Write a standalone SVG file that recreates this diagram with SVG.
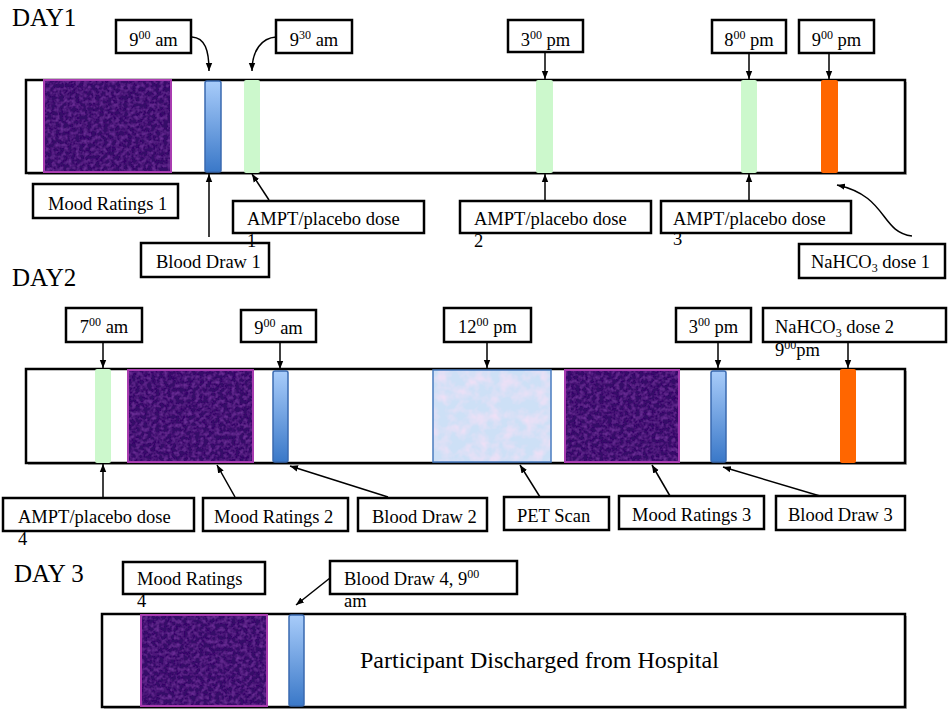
<svg xmlns="http://www.w3.org/2000/svg" width="948" height="710" viewBox="0 0 948 710" font-family="'Liberation Serif', 'Times New Roman', serif">
<style>
text{font-family:"Liberation Serif","Times New Roman",serif;fill:#000}
.lbl{font-size:18.5px}
.day{font-size:25px}
.big{font-size:24px}
.box{fill:#fff;stroke:#000;stroke-width:2.5}
.bar{fill:#fff;stroke:#000;stroke-width:2.5}
.shadow{fill:#bbb}
.con{fill:none;stroke:#000;stroke-width:1.5}
.green{fill:#ccf8cc}
.orange{fill:#ff6600}
.blue{fill:url(#bg);stroke:#3a6ab0;stroke-width:1.5}
.mood{fill:#360a68;filter:url(#tex)}
.moodb{fill:none;stroke:#a83cb0;stroke-width:2}
.pet{fill:#cde0f6;filter:url(#tex2)}
.petb{fill:none;stroke:#4a7cc0;stroke-width:1.5}
</style>
<defs>
<linearGradient id="bg" x1="0" y1="0" x2="0" y2="1">
<stop offset="0" stop-color="#a8ccfa"/>
<stop offset="1" stop-color="#3a78c8"/>
</linearGradient>
<filter id="tex" x="0" y="0" width="100%" height="100%">
<feTurbulence type="fractalNoise" baseFrequency="0.25" numOctaves="2" seed="2"/>
<feColorMatrix type="matrix" values="0 0 0 0 0.38  0 0 0 0 0.08  0 0 0 0 0.66  0.7 0 0 0 -0.27"/>
<feComposite in2="SourceGraphic" operator="in" result="t"/>
<feMerge><feMergeNode in="SourceGraphic"/><feMergeNode in="t"/></feMerge>
</filter>
<filter id="tex2" x="0" y="0" width="100%" height="100%">
<feTurbulence type="fractalNoise" baseFrequency="0.08" numOctaves="3" seed="5"/>
<feColorMatrix type="matrix" values="0 0 0 0 0.93  0 0 0 0 0.75  0 0 0 0 0.92  1.6 0 0 0 -0.6"/>
<feComposite in2="SourceGraphic" operator="in" result="t"/>
<feMerge><feMergeNode in="SourceGraphic"/><feMergeNode in="t"/></feMerge>
</filter>
<marker id="ah" viewBox="0 0 10 10" refX="10" refY="5" markerWidth="8" markerHeight="8" markerUnits="userSpaceOnUse" orient="auto">
<path d="M0,1 L10,5 L0,9 z" fill="#000"/>
</marker>
</defs>
<rect width="948" height="710" fill="#fff"/>

<!-- DAY 1 -->
<text class="day" x="12" y="26">DAY1</text>
<g id="day1-bar">
<rect class="shadow" x="28" y="82" width="879" height="93"/>
<rect class="bar" x="26" y="80" width="879" height="93"/>
</g>
<g id="mood1-block"><rect class="mood" x="44" y="80" width="127" height="92"/><rect class="moodb" x="44" y="80" width="127" height="92"/></g>
<g id="blood1-strip"><rect class="blue" x="205" y="81" width="16" height="91" rx="2"/></g>
<g id="ampt1-strip"><rect class="green" x="244" y="80" width="16" height="93" rx="2"/></g>
<g id="ampt2-strip"><rect class="green" x="536" y="80" width="17" height="93" rx="2"/></g>
<g id="ampt3-strip"><rect class="green" x="741" y="80" width="16" height="93" rx="2"/></g>
<g id="nahco1-strip"><rect class="orange" x="821" y="80" width="17" height="93" rx="2"/></g>

<g id="t-900am-d1"><rect class="box" x="116" y="20" width="75" height="33"/><text class="lbl" x="153.5" y="46" text-anchor="middle">9<tspan font-size="12" dy="-7">00</tspan><tspan dy="7"> am</tspan></text></g>
<g id="t-930am-d1"><rect class="box" x="276" y="20" width="76" height="33"/><text class="lbl" x="314" y="46" text-anchor="middle">9<tspan font-size="12" dy="-7">30</tspan><tspan dy="7"> am</tspan></text></g>
<g id="t-300pm-d1"><rect class="box" x="508" y="20" width="75" height="32"/><text class="lbl" x="545.5" y="46" text-anchor="middle">3<tspan font-size="12" dy="-7">00</tspan><tspan dy="7"> pm</tspan></text></g>
<g id="t-800pm-d1"><rect class="box" x="712" y="20" width="74" height="33"/><text class="lbl" x="749" y="46" text-anchor="middle">8<tspan font-size="12" dy="-7">00</tspan><tspan dy="7"> pm</tspan></text></g>
<g id="t-900pm-d1"><rect class="box" x="799" y="20" width="75" height="33"/><text class="lbl" x="836.5" y="46" text-anchor="middle">9<tspan font-size="12" dy="-7">00</tspan><tspan dy="7"> pm</tspan></text></g>

<g id="mood1-label"><rect class="box" x="33" y="184" width="145" height="34"/><text class="lbl" x="48" y="210">Mood Ratings 1</text></g>
<g id="blood1-label"><rect class="box" x="141" y="243" width="128" height="34"/><text class="lbl" x="156" y="268">Blood Draw 1</text></g>
<g id="ampt1-label"><rect class="box" x="233" y="201" width="191" height="32"/><text class="lbl" x="247" y="225">AMPT/placebo dose</text><text class="lbl" x="247" y="247">1</text></g>
<g id="ampt2-label"><rect class="box" x="460" y="201" width="191" height="32"/><text class="lbl" x="474" y="225">AMPT/placebo dose</text><text class="lbl" x="474" y="247">2</text></g>
<g id="ampt3-label"><rect class="box" x="661" y="201" width="190" height="32"/><text class="lbl" x="673" y="225">AMPT/placebo dose</text><text class="lbl" x="673" y="245">3</text></g>
<g id="nahco1-label"><rect class="box" x="799" y="244" width="146" height="34"/><text class="lbl" x="811" y="268">NaHCO<tspan font-size="12" dy="4">3</tspan><tspan dy="-4"> dose 1</tspan></text></g>

<!-- DAY 2 -->
<text class="day" x="12" y="286">DAY2</text>
<g id="day2-bar">
<rect class="shadow" x="28" y="371" width="879" height="94"/>
<rect class="bar" x="26" y="369" width="879" height="94"/>
</g>
<g id="ampt4-strip"><rect class="green" x="95" y="369" width="16" height="94" rx="2"/></g>
<g id="mood2-block"><rect class="mood" x="128" y="370" width="125" height="92"/><rect class="moodb" x="128" y="370" width="125" height="92"/></g>
<g id="blood2-strip"><rect class="blue" x="273" y="371" width="15" height="91" rx="2"/></g>
<g id="pet-block"><rect class="pet" x="433" y="370" width="118" height="92"/><rect class="petb" x="433" y="370" width="118" height="92"/></g>
<g id="mood3-block"><rect class="mood" x="565" y="370" width="114" height="92"/><rect class="moodb" x="565" y="370" width="114" height="92"/></g>
<g id="blood3-strip"><rect class="blue" x="711" y="371" width="15" height="91" rx="2"/></g>
<g id="nahco2-strip"><rect class="orange" x="840" y="369" width="16" height="94" rx="2"/></g>

<g id="t-700am-d2"><rect class="box" x="66" y="308" width="76" height="34"/><text class="lbl" x="104" y="333" text-anchor="middle">7<tspan font-size="12" dy="-7">00</tspan><tspan dy="7"> am</tspan></text></g>
<g id="t-900am-d2"><rect class="box" x="241" y="310" width="75" height="32"/><text class="lbl" x="278.5" y="334" text-anchor="middle">9<tspan font-size="12" dy="-7">00</tspan><tspan dy="7"> am</tspan></text></g>
<g id="t-1200pm-d2"><rect class="box" x="444" y="308" width="87" height="34"/><text class="lbl" x="487.5" y="333" text-anchor="middle">12<tspan font-size="12" dy="-7">00</tspan><tspan dy="7"> pm</tspan></text></g>
<g id="t-300pm-d2"><rect class="box" x="676" y="308" width="75" height="34"/><text class="lbl" x="713.5" y="333" text-anchor="middle">3<tspan font-size="12" dy="-7">00</tspan><tspan dy="7"> pm</tspan></text></g>
<g id="nahco2-label"><rect class="box" x="763" y="308" width="183" height="34"/><text class="lbl" x="775" y="333">NaHCO<tspan font-size="12" dy="4">3</tspan><tspan dy="-4"> dose 2</tspan></text><text class="lbl" x="775" y="356">9<tspan font-size="12" dy="-7">00</tspan><tspan dy="7">pm</tspan></text></g>

<g id="ampt4-label"><rect class="box" x="3" y="498" width="191" height="33"/><text class="lbl" x="18" y="523">AMPT/placebo dose</text><text class="lbl" x="18" y="545">4</text></g>
<g id="mood2-label"><rect class="box" x="203" y="498" width="145" height="33"/><text class="lbl" x="214" y="523">Mood Ratings 2</text></g>
<g id="blood2-label"><rect class="box" x="358" y="498" width="129" height="33"/><text class="lbl" x="372" y="523">Blood Draw 2</text></g>
<g id="pet-label"><rect class="box" x="504" y="497" width="105" height="33"/><text class="lbl" x="517" y="522">PET Scan</text></g>
<g id="mood3-label"><rect class="box" x="619" y="496" width="145" height="33"/><text class="lbl" x="632" y="521">Mood Ratings 3</text></g>
<g id="blood3-label"><rect class="box" x="776" y="496" width="129" height="34"/><text class="lbl" x="788" y="521">Blood Draw 3</text></g>

<!-- DAY 3 -->
<text class="day" x="14" y="582">DAY 3</text>
<g id="mood4-label"><rect class="box" x="123" y="562" width="142" height="32"/><text class="lbl" x="137" y="585">Mood Ratings</text><text class="lbl" x="137" y="607">4</text></g>
<g id="blood4-label"><rect class="box" x="330" y="561" width="187" height="33"/><text class="lbl" x="344" y="585">Blood Draw 4, 9<tspan font-size="12" dy="-7">00</tspan></text><text class="lbl" x="344" y="607">am</text></g>
<g id="day3-bar">
<rect class="shadow" x="104" y="616" width="803" height="93"/>
<rect class="bar" x="102" y="614" width="803" height="93"/>
<text class="big" x="360" y="668">Participant Discharged from Hospital</text>
</g>
<g id="mood4-block"><rect class="mood" x="141" y="615" width="126" height="91"/><rect class="moodb" x="141" y="615" width="126" height="91"/></g>
<g id="blood4-strip"><rect class="blue" x="289" y="615" width="15" height="91" rx="2"/></g>

<g id="connectors">
<path class="con" d="M192,37 C205,38 209,50 209,71" marker-end="url(#ah)"/>
<path class="con" d="M276,37 C262,38 252,50 252,71" marker-end="url(#ah)"/>
<path class="con" d="M545,52 L545,79" marker-end="url(#ah)"/>
<path class="con" d="M749,53 L749,79" marker-end="url(#ah)"/>
<path class="con" d="M829,53 L829,79" marker-end="url(#ah)"/>
<path class="con" d="M209,237 L209,174" marker-end="url(#ah)"/>
<path class="con" d="M269,200 L252,174" marker-end="url(#ah)"/>
<path class="con" d="M545,201 L545,174" marker-end="url(#ah)"/>
<path class="con" d="M749,201 L749,174" marker-end="url(#ah)"/>
<path class="con" d="M912,236 C880,232 888,196 837,185" marker-end="url(#ah)"/>
<path class="con" d="M103,342 L103,368" marker-end="url(#ah)"/>
<path class="con" d="M280,342 L280,369" marker-end="url(#ah)"/>
<path class="con" d="M487,342 L487,368" marker-end="url(#ah)"/>
<path class="con" d="M718,342 L718,368" marker-end="url(#ah)"/>
<path class="con" d="M848,342 L848,368" marker-end="url(#ah)"/>
<path class="con" d="M103,498 L103,464" marker-end="url(#ah)"/>
<path class="con" d="M235,497 L217,465" marker-end="url(#ah)"/>
<path class="con" d="M388,497 L290,466" marker-end="url(#ah)"/>
<path class="con" d="M540,497 L520,465" marker-end="url(#ah)"/>
<path class="con" d="M670,496 L652,465" marker-end="url(#ah)"/>
<path class="con" d="M820,496 L723,467" marker-end="url(#ah)"/>
<path class="con" d="M330,578 L296,605" marker-end="url(#ah)"/>
</g>
</svg>
